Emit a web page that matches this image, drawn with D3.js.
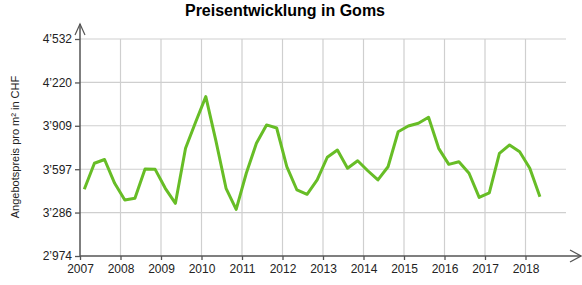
<!DOCTYPE html>
<html>
<head>
<meta charset="utf-8">
<script src="https://cdn.jsdelivr.net/npm/d3@7"></script>
<style>
  body { margin: 0; background: #fff; }
  svg text { font-family: "Liberation Sans", Arial, sans-serif; }
</style>
</head>
<body>
<svg id="chart"></svg>
<script>
// quarterly offer prices (CHF per m2), 2007 Q1 .. 2018 Q2
var quarters = [
    "2007-Q1","2007-Q2","2007-Q3","2007-Q4","2008-Q1","2008-Q2","2008-Q3","2008-Q4",
    "2009-Q1","2009-Q2","2009-Q3","2009-Q4","2010-Q1","2010-Q2","2010-Q3","2010-Q4",
    "2011-Q1","2011-Q2","2011-Q3","2011-Q4","2012-Q1","2012-Q2","2012-Q3","2012-Q4",
    "2013-Q1","2013-Q2","2013-Q3","2013-Q4","2014-Q1","2014-Q2","2014-Q3","2014-Q4",
    "2015-Q1","2015-Q2","2015-Q3","2015-Q4","2016-Q1","2016-Q2","2016-Q3","2016-Q4",
    "2017-Q1","2017-Q2","2017-Q3","2017-Q4","2018-Q1","2018-Q2"
];
var prices = [
    3453, 3640, 3667, 3496, 3376, 3388, 3599, 3596,
    3460, 3352, 3747, 3936, 4118, 3800, 3460, 3309,
    3568, 3783, 3915, 3893, 3615, 3448, 3417, 3520,
    3683, 3735, 3604, 3658, 3586, 3520, 3615, 3866,
    3907, 3927, 3970, 3747, 3632, 3651, 3568, 3395,
    3428, 3711, 3771, 3723, 3604, 3400
];
var yTicks = [2974, 3286, 3597, 3909, 4220, 4532];
var xTicks = [2007, 2008, 2009, 2010, 2011, 2012, 2013, 2014, 2015, 2016, 2017, 2018];

// turn "2007-Q1" into a decimal year, points sit a bit after quarter start
var toYear = function(q)
{
    var parts = q.split("-Q");
    return +parts[0] + (+parts[1] - 1) * 0.25 + 0.106;
}

var initGraph = function(target)
{
    var screen = {width:582, height:285};
    var margins = {top:39, bottom:29, left:80, right:16};
    var graph = {
        width:screen.width-margins.left-margins.right,
        height:screen.height-margins.top-margins.bottom
    };

    var svg = d3.select(target)
        .attr("width",screen.width)
        .attr("height",screen.height);

    var xScale = d3.scaleLinear()
        .domain([2007,2019])
        .range([0,graph.width]);
    var yScale = d3.scaleLinear()
        .domain([2974,4532])
        .range([graph.height,0]);

    var fmt = d3.formatLocale({decimal:".", thousands:"\u2019", grouping:[3], currency:["",""]}).format(",d");

    var g = svg.append("g")
        .attr("transform","translate("+margins.left+","+margins.top+")");

    // grid
    g.append("g").selectAll("line.h")
        .data(yTicks.slice(1))
        .enter().append("line")
        .attr("x1",0).attr("x2",graph.width)
        .attr("y1",function(d){return yScale(d);})
        .attr("y2",function(d){return yScale(d);})
        .attr("stroke","#cfcfcf").attr("stroke-width",1.2);
    g.append("g").selectAll("line.v")
        .data(xTicks.slice(1))
        .enter().append("line")
        .attr("x1",function(d){return xScale(d);})
        .attr("x2",function(d){return xScale(d);})
        .attr("y1",0).attr("y2",graph.height)
        .attr("stroke","#cfcfcf").attr("stroke-width",1.2);

    // axes
    var yAxis = d3.axisLeft(yScale).tickValues(yTicks).tickFormat(fmt).tickSize(5).tickPadding(3);
    var xAxis = d3.axisBottom(xScale).tickValues(xTicks).tickFormat(d3.format("d")).tickSize(4).tickPadding(4);

    var ya = g.append("g").call(yAxis);
    var xa = g.append("g").attr("transform","translate(0,"+graph.height+")").call(xAxis);
    [ya,xa].forEach(function(a)
    {
        a.select(".domain").remove();
        a.selectAll("line").attr("stroke","#555").attr("stroke-width",1.3);
        a.selectAll("text").attr("fill","#222").style("font-size","12px");
    });

    // axis lines with open arrow heads
    var axisColor = "#555";
    svg.append("line")
        .attr("x1",margins.left).attr("x2",margins.left)
        .attr("y1",margins.top+graph.height).attr("y2",24)
        .attr("stroke",axisColor).attr("stroke-width",1.5);
    svg.append("path")
        .attr("d","M"+(margins.left-5)+",35L"+margins.left+",24L"+(margins.left+5)+",35")
        .attr("fill","none").attr("stroke",axisColor).attr("stroke-width",1.2);
    svg.append("line")
        .attr("x1",margins.left).attr("x2",581)
        .attr("y1",margins.top+graph.height).attr("y2",margins.top+graph.height)
        .attr("stroke",axisColor).attr("stroke-width",1.5);
    svg.append("path")
        .attr("d","M570,"+(margins.top+graph.height-6)+"L581,"+(margins.top+graph.height)+"L570,"+(margins.top+graph.height+6))
        .attr("fill","none").attr("stroke",axisColor).attr("stroke-width",1.2);

    // price line
    var line = d3.line()
        .x(function(d,i){return xScale(toYear(quarters[i]));})
        .y(function(d){return yScale(d);});
    g.append("path")
        .datum(prices)
        .attr("d",line)
        .attr("fill","none")
        .attr("stroke","#67bd26")
        .attr("stroke-width",3)
        .attr("stroke-linejoin","round");

    // title and axis label
    svg.append("text")
        .attr("x",285).attr("y",16)
        .attr("text-anchor","middle")
        .style("font-size","16px").style("font-weight","bold")
        .attr("fill","#000")
        .text("Preisentwicklung in Goms");
    svg.append("text")
        .attr("transform","translate(19,147) rotate(-90)")
        .attr("text-anchor","middle")
        .style("font-size","11px")
        .attr("fill","#222")
        .text("Angebotspreis pro m\u00b2 in CHF");
}

initGraph("#chart");
</script>
</body>
</html>
